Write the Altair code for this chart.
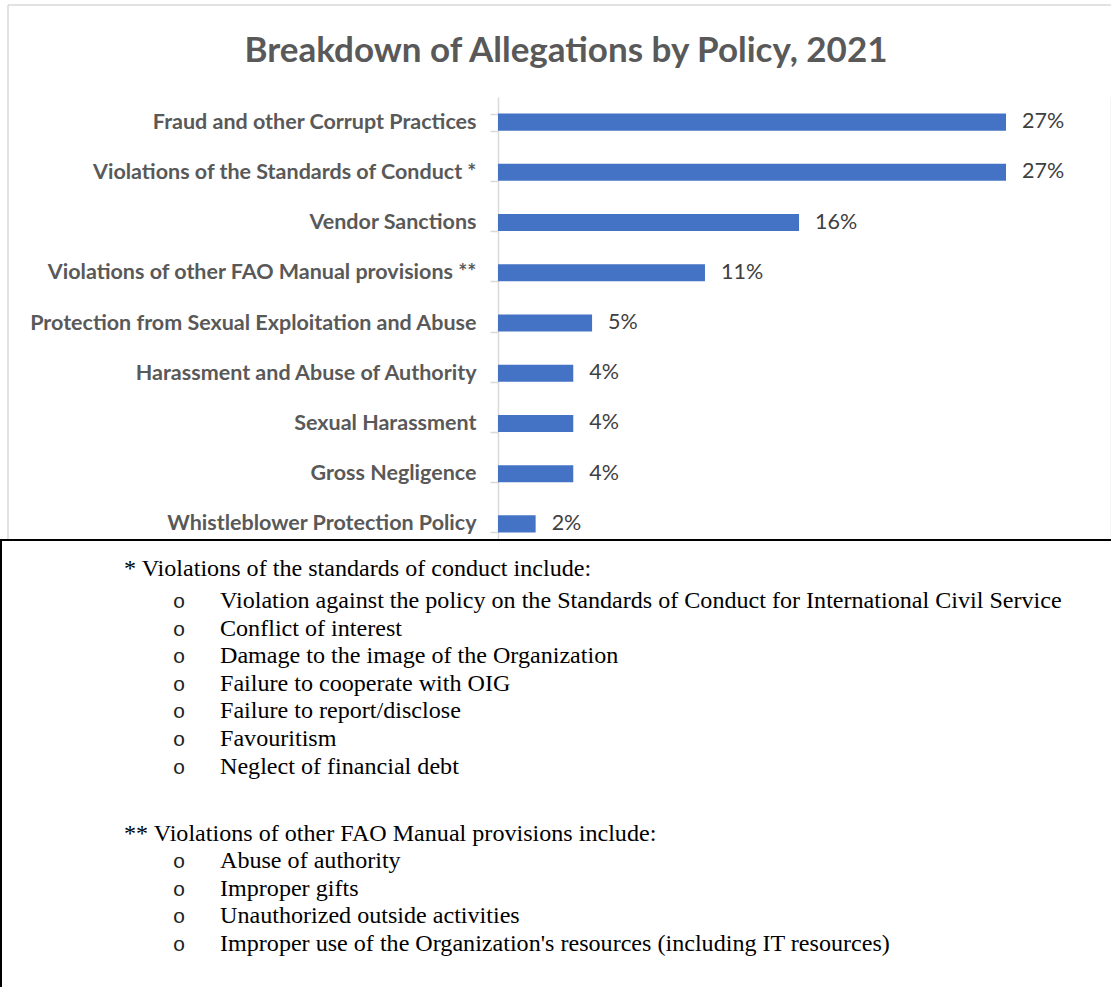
import altair as alt
import pandas as pd

# ---- data ----
title_text = "Breakdown of Allegations by Policy, 2021"
categories = [
    "Fraud and other Corrupt Practices\u00a0",
    "Violations of the Standards of Conduct *",
    "Vendor Sanctions",
    "Violations of other FAO Manual provisions **",
    "Protection from Sexual Exploitation and Abuse",
    "Harassment and Abuse of Authority",
    "Sexual Harassment\u00a0",
    "Gross Negligence",
    "Whistleblower Protection Policy",
]
shares = [27, 27, 16, 11, 5, 4, 4, 4, 2]

note1_header = "* Violations of the standards of conduct include:"
note1_items = [
    "Violation against the policy on the Standards of Conduct for International Civil Service",
    "Conflict of interest",
    "Damage to the image of the Organization",
    "Failure to cooperate with OIG",
    "Failure to report/disclose",
    "Favouritism",
    "Neglect of financial debt",
]
note2_header = "** Violations of other FAO Manual provisions include:"
note2_items = [
    "Abuse of authority",
    "Improper gifts",
    "Unauthorized outside activities",
    "Improper use of the Organization's resources (including IT resources)",
]

bars_df = pd.DataFrame({"policy": categories, "share": shares})
bars_df["label"] = [f"{v}%" for v in shares]

# ---- layout constants (pixels relative to plot origin) ----
PLOT_W, PLOT_H = 613, 452
PAD = {"left": 498, "top": 97, "right": 0, "bottom": 438}
LINE = 27.6

rows = []
rows.append({"text": note1_header, "kind": "header", "ypx": 479})
for i, t in enumerate(note1_items):
    rows.append({"text": t, "kind": "item", "ypx": 511 + LINE * i})
rows.append({"text": note2_header, "kind": "header", "ypx": 744})
for i, t in enumerate(note2_items):
    rows.append({"text": t, "kind": "item", "ypx": 771 + LINE * i})
notes_df = pd.DataFrame(rows)

BLUE = "#4472C4"
LABEL_FONT = "Lato"

y_enc = alt.Y(
    "policy:N",
    sort=None,
    title=None,
    scale=alt.Scale(paddingInner=0.66, paddingOuter=0.33),
    axis=alt.Axis(
        labelFont=LABEL_FONT,
        labelFontSize=21.5,
        labelFontWeight="bold",
        labelColor="#595959",
        labelPadding=14,
        labelLimit=0,
        tickBand="extent",
        tickSize=8,
        tickColor="#d9d9d9",
        tickWidth=1.5,
        domainColor="#d9d9d9",
        domainWidth=1.5,
        grid=False,
    ),
)
x_enc = alt.X(
    "share:Q",
    title=None,
    axis=None,
    scale=alt.Scale(domain=[0, 32.58], nice=False, zero=True),
)

base = alt.Chart(bars_df)
bars = base.mark_bar(color=BLUE).encode(x=x_enc, y=y_enc)
labels = base.mark_text(
    align="left", baseline="middle", dx=16, font=LABEL_FONT, fontSize=21.5, color="#404040"
).encode(x=x_enc, y=y_enc, text="label:N")

one = pd.DataFrame({"k": [0]})
title_mark = alt.Chart(pd.DataFrame({"t": [title_text]})).mark_text(
    align="center", baseline="alphabetic", font=LABEL_FONT, fontSize=35,
    fontWeight="bold", color="#595959",
).encode(x=alt.value(68), y=alt.value(-35), text="t:N")
gray_top = alt.Chart(one).mark_rule(color="#d9d9d9", strokeWidth=1.5).encode(
    x=alt.value(-490), x2=alt.value(PLOT_W), y=alt.value(-92)
)
gray_left = alt.Chart(one).mark_rule(color="#d9d9d9", strokeWidth=1.5).encode(
    x=alt.value(-490), y=alt.value(-92), y2=alt.value(443)
)
white_box = alt.Chart(one).mark_rect(color="white").encode(
    x=alt.value(-498), x2=alt.value(PLOT_W), y=alt.value(443), y2=alt.value(890)
)
black_top = alt.Chart(one).mark_rule(color="black", strokeWidth=2).encode(
    x=alt.value(-498), x2=alt.value(PLOT_W), y=alt.value(443)
)
black_left = alt.Chart(one).mark_rule(color="black", strokeWidth=2).encode(
    x=alt.value(-497), y=alt.value(443), y2=alt.value(890)
)

notes = alt.Chart(notes_df)
note_y = alt.Y("ypx:Q", scale=None, axis=None)
SERIF = "Liberation Serif"
headers = notes.transform_filter(alt.datum.kind == "header").mark_text(
    align="left", baseline="alphabetic", font=SERIF, fontSize=24.1, color="black"
).encode(x=alt.value(-374), y=note_y, text="text:N")
items = notes.transform_filter(alt.datum.kind == "item").mark_text(
    align="left", baseline="alphabetic", font=SERIF, fontSize=24.1, color="black"
).encode(x=alt.value(-278), y=note_y, text="text:N")
bullets = notes.transform_filter(alt.datum.kind == "item").mark_text(
    align="center", baseline="alphabetic", font="Liberation Mono", fontSize=21,
    color="#222222", text="o",
).encode(x=alt.value(-319), y=note_y)

chart = (
    alt.layer(
        gray_top, gray_left, title_mark, bars, labels, white_box, black_top, black_left,
        headers, items, bullets,
    )
    .resolve_scale(y="independent", x="independent")
    .properties(
        width=PLOT_W,
        height=PLOT_H,
        padding=PAD,
        autosize=alt.AutoSizeParams(type="none"),
        background="white",
    )
    .configure_view(stroke=None)
)

chart.save("out.html", embed_options={"renderer": "svg", "actions": False})
